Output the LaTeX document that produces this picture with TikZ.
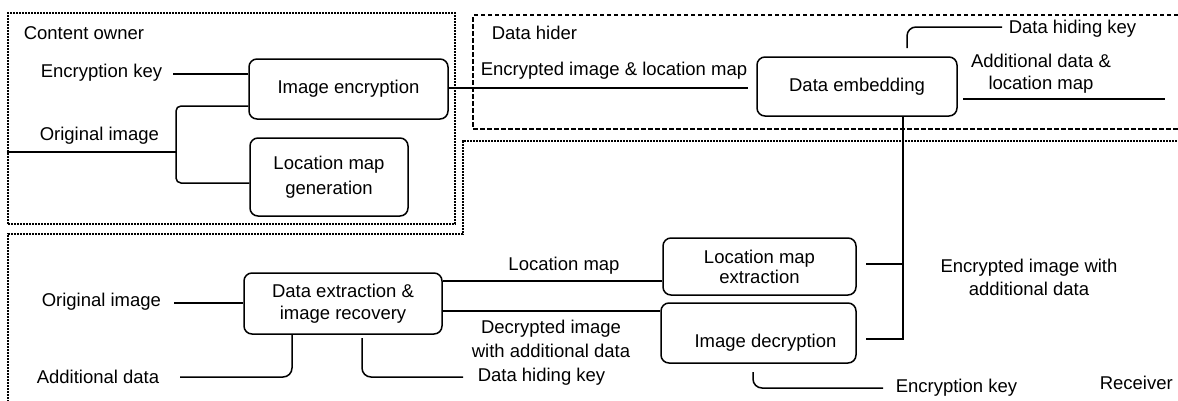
\documentclass[tikz,border=0pt]{standalone}
\usepackage{fontspec}
\setmainfont{Liberation Sans}
\begin{document}
\begin{tikzpicture}[x=1pt,y=-1pt, line width=1.5pt,
  font=\fontsize{18.5}{22}\selectfont,
  box/.style={draw, rounded corners=8pt, align=center, inner sep=0pt},
  lbl/.style={inner sep=0pt, align=center},
  conn/.style={rounded corners=9pt},
  owner/.style={line width=2.8pt, dash pattern=on 2.2pt off 0.8pt},
  hider/.style={line width=1.8pt, dash pattern=on 4.5pt off 2.5pt},
  recv/.style={line width=2.4pt, dash pattern=on 2.2pt off 0.8pt}]
\useasboundingbox (0,0) rectangle (1178,400);

% frames
\node[owner, draw, minimum width=447, minimum height=211, inner sep=0pt] (co) at (231.5,118.5) {};
\draw[hider] (1185,15) -- (473,15) -- (473,129) -- (1185,129);
\draw[recv] (8,405) -- (8,234) -- (463,234) -- (463,141) -- (1185,141);

% frame labels
\node[lbl, anchor=west] (colbl) at (23,33) {Content owner};
\node[lbl, anchor=west] (dhlbl) at (491,33) {Data hider};
\node[lbl, anchor=west] (rclbl) at (1099,383) {Receiver};

% process boxes
\node[box, minimum width=199, minimum height=60] (enc) at (348.5,89) {Image encryption};
\node[box, minimum width=158, minimum height=78, font=\fontsize{18.5}{25}\selectfont] (lmg) at (329,177) {Location map\\generation};
\node[box, minimum width=200, minimum height=59] (emb) at (857,86.5) {Data embedding};
\node[box, minimum width=193, minimum height=57, font=\fontsize{18.5}{20}\selectfont] (lme) at (759.5,266.5) {Location map\\extraction};
\node[box, minimum width=195, minimum height=60] (dec) at (758.5,333) {\raisebox{-14pt}[0pt][0pt]{\hspace{14pt}Image decryption}};
\node[box, minimum width=198, minimum height=61] (der) at (343,303.5) {Data extraction \&\\image recovery};

% text labels
\node[lbl, anchor=west] (ek1) at (40,73) {Encryption key};
\node[lbl, anchor=west] (oi1) at (39,136) {Original image};
\node[lbl] (eilm) at (614,71) {Encrypted image \& location map};
\node[lbl, anchor=west] (dhk1) at (1008,29) {Data hiding key};
\node[lbl] (adlm) at (1041,74) {Additional data \&\\location map};
\node[lbl, font=\fontsize{18.5}{23}\selectfont] (eiad) at (1029,277) {Encrypted image with\\additional data};
\node[lbl] (lm) at (564,266) {Location map};
\node[lbl, font=\fontsize{18.5}{24}\selectfont] (dwad) at (551,339) {Decrypted image\\with additional data};
\node[lbl, anchor=west] (oi2) at (41,302) {Original image};
\node[lbl, anchor=west] (ad2) at (36,377) {Additional data};
\node[lbl, anchor=west] (dhk2) at (477,377) {Data hiding key};
\node[lbl, anchor=west] (ek2) at (895,388) {Encryption key};

% content owner connectors
\coordinate (ek1s) at (173,74);
\draw (ek1s) -- (ek1s -| enc.west);
\coordinate (oj) at (176,152);
\coordinate (ojt) at (176,106);
\coordinate (ojb) at (176,183);
\draw (co.west |- oj) -- (oj);
\draw[conn, rounded corners=5pt] (ojt -| enc.west) -- (ojt) -- (ojb) -- (ojb -| lmg.west);
\draw[shorten >=8pt] (enc.east |- 0,88) -- (emb.west |- 0,88);

% data hider connectors
\coordinate (dk) at (907,48);
\draw[conn] (dk) |- ([xshift=-6pt]dhk1.west |- 0,27);
\coordinate (al1) at (963,99);
\coordinate (al2) at (1165,99);
\draw (al1) -- (al2);

% receiver connectors
\coordinate (vt) at (903,0);
\coordinate (vm) at (903,264);
\coordinate (vb) at (903,339);
\draw (vt |- emb.south) -- (vb) -- ([xshift=9pt]vb -| dec.east);
\draw (vm) -- ([xshift=9pt]vm -| lme.east);
\coordinate (r1) at (442,281);
\coordinate (r2) at (442,311);
\draw (r1 -| der.east) -- (r1 -| lme.west);
\draw (r2 -| der.east) -- (r2 -| dec.west);
\coordinate (oi2s) at (174,303);
\draw (oi2s) -- (oi2s -| der.west);
\coordinate (ad2s) at (180,377);
\coordinate (adc) at (292,377);
\draw[conn] (ad2s) -| (der.south -| adc);
\coordinate (dh2t) at (362,338);
\draw[conn] (dh2t) |- ([xshift=-14pt]dhk2.west);
\coordinate (ek2t) at (753,372);
\draw[conn] (ek2t) |- ([xshift=-12pt]ek2.west);
\end{tikzpicture}
\end{document}
